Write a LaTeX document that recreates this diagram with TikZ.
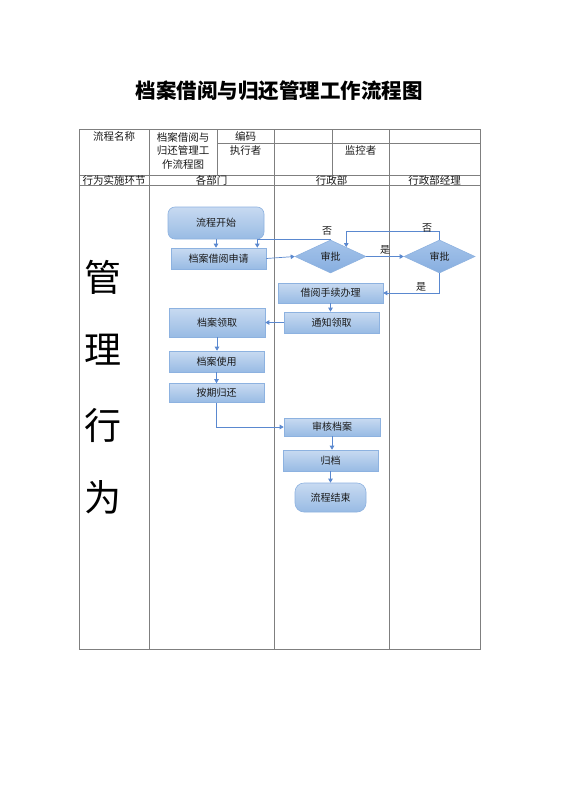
\documentclass[tikz,border=0pt]{standalone}
\usepackage{fontspec}
\setmainfont{Noto Sans CJK SC}
\usetikzlibrary{shapes.geometric,arrows.meta,calc}
\definecolor{tblline}{HTML}{7F7F7F}
\definecolor{boxtop}{HTML}{C8DAF1}
\definecolor{boxbot}{HTML}{98BBE4}
\definecolor{dectop}{HTML}{A6C4EA}
\definecolor{decbot}{HTML}{86AEE0}
\definecolor{boxedge}{HTML}{8DB2E0}
\definecolor{arrowc}{HTML}{5A88CF}
\definecolor{txt}{HTML}{1A1A1A}
\begin{document}
\begin{tikzpicture}[x=1pt,y=-1pt,
  tbl/.style={draw=tblline,line width=0.8pt},
  celltext/.style={font=\fontsize{10.5}{12}\selectfont,text=txt,inner sep=0pt},
  boxbase/.style={top color=boxtop,bottom color=boxbot,draw=boxedge,line width=0.6pt,
    inner sep=0pt,font=\fontsize{10}{12}\selectfont,text=txt},
  procbox/.style={boxbase,rectangle,minimum width=#1},
  procbox/.default={95pt},
  termbox/.style={boxbase,rectangle,rounded corners=7pt},
  decbox/.style={boxbase,top color=dectop,bottom color=decbot,diamond,minimum width=71pt,minimum height=33pt},
  conn/.style={draw=arrowc,line width=0.7pt,-{Triangle[length=4pt,width=4.5pt]}},
  lbl/.style={font=\fontsize{10}{12}\selectfont,text=txt,inner sep=0pt},
  bigchar/.style={font=\fontsize{37}{40}\selectfont,text=black,inner sep=0pt}]
\useasboundingbox[fill=white] (0,0) rectangle (560,792);

% title
\node[inner sep=0pt,font=\fontsize{20.5}{24}\selectfont\bfseries] (title) at (279,91) {档案借阅与归还管理工作流程图};

% table
\draw[tbl] (79,129) rectangle (480,649);
\draw[tbl] (217,143) -- (480,143);
\draw[tbl] (79,175) -- (480,175);
\draw[tbl] (79,185) -- (480,185);
\draw[tbl] (149,129) -- (149,649);
\draw[tbl] (217,129) -- (217,175);
\draw[tbl] (274,129) -- (274,649);
\draw[tbl] (332,129) -- (332,175);
\draw[tbl] (389,129) -- (389,649);

\node[celltext] (h1) at (114,136) {流程名称};
\node[celltext] (h2a) at (183,137) {档案借阅与};
\node[celltext] (h2b) at (183,151) {归还管理工};
\node[celltext] (h2c) at (183,165) {作流程图};
\node[celltext] (h3) at (245.5,136) {编码};
\node[celltext] (h4) at (245.5,150.5) {执行者};
\node[celltext] (h5) at (360.5,150.5) {监控者};
\node[celltext] (r1) at (114,180.3) {行为实施环节};
\node[celltext] (r2) at (211.5,180.3) {各部门};
\node[celltext] (r3) at (331.5,180.3) {行政部};
\node[celltext] (r4) at (434.5,180.3) {行政部经理};

% big vertical characters
\node[bigchar] (g1) at (103,277) {管};
\node[bigchar] (g2) at (103,350) {理};
\node[bigchar] (g3) at (103,425) {行};
\node[bigchar] (g4) at (103,497) {为};

% flow nodes
\node[termbox,minimum width=96pt,minimum height=32pt] (start) at (216,223) {流程开始};
\node[procbox,minimum height=21pt] (apply) at (218.5,258.5) {档案借阅申请};
\node[decbox] (d1) at (330.5,256.5) {审批};
\node[decbox] (d2) at (439.5,256.5) {审批};
\node[procbox=105pt,minimum height=20pt] (proc) at (330.5,293) {借阅手续办理};
\node[procbox,minimum height=21pt] (notify) at (331.5,322.5) {通知领取};
\node[procbox=96pt,minimum height=29pt] (get) at (217,322.5) {档案领取};
\node[procbox,minimum height=21pt] (use) at (216.5,361.5) {档案使用};
\node[procbox,minimum height=19pt] (ret) at (216.5,393) {按期归还};
\node[procbox=96pt,minimum height=18pt] (audit) at (332,427) {审核档案};
\node[procbox,minimum height=21pt] (arch) at (330.5,460.5) {归档};
\node[termbox,rounded corners=9pt,minimum width=71pt,minimum height=29pt] (end) at (330.5,497.5) {流程结束};

% connectors
\draw[conn] (start.south) -- (start.south |- apply.north);
\draw[conn] (apply.east) -- (d1.west);
\draw[conn] (d1.north) -| ([xshift=-9pt]apply.north east);
\node[lbl] (no1) at (327,231) {否};
\draw[conn] (d1.east) -- (d2.west);
\node[lbl] (yes1) at (385,250) {是};
\draw[conn] (d2.north) -- ++(0,-8) -| ($(d1.north)!0.44!(d1.east)$);
\node[lbl] (no2) at (427,228) {否};
\draw[conn] (d2.south) |- (proc.east);
\node[lbl] (yes2) at (421,287) {是};
\draw[conn] (proc.south) -- (proc.south |- notify.north);
\draw[conn] (notify.west) -- (get.east);
\draw[conn] (get.south) -- (get.south |- use.north);
\draw[conn] (use.south) -- (ret.north);
\draw[conn] (ret.south) |- (audit.west);
\draw[conn] (audit.south) -- (audit.south |- arch.north);
\draw[conn] (arch.south) -- (arch.south |- end.north);
\end{tikzpicture}
\end{document}
